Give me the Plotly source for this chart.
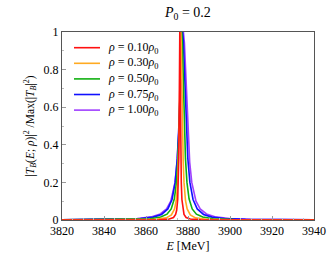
import plotly.graph_objects as go

labels = ["0.10", "0.30", "0.50", "0.75", "1.00"]
colors = ["#ff1010", "#ffaa22", "#10b010", "#1010ff", "#a040ff"]

E_red = [3820, 3850, 3866.1, 3871.1, 3873.1, 3874.1, 3874.6, 3875.1, 3875.4, 3875.6, 3875.75, 3875.9, 3876.0,
         3876.1, 3876.2, 3876.3, 3876.45, 3876.6, 3876.8, 3877.1, 3877.6, 3878.1, 3879.1, 3881.1, 3886.1, 3900, 3940]
Y_red = [0, 0.0001, 0.0012, 0.0049, 0.0134, 0.0297, 0.0516, 0.109, 0.2, 0.329, 0.5, 0.754, 0.925,
         1, 0.925, 0.754, 0.5, 0.329, 0.2, 0.109, 0.0516, 0.0297, 0.0134, 0.0049, 0.0012, 0.0002, 0]

E_orange = [3820, 3851.6, 3864.6, 3869.6, 3872.1, 3873.6, 3874.4, 3875.1, 3875.5, 3875.85, 3876.2, 3876.4, 3876.6,
            3876.8, 3877.0, 3877.35, 3877.7, 3878.1, 3878.8, 3879.6, 3881.1, 3883.6, 3888.6, 3901.6, 3940]
Y_orange = [0.0002, 0.0009, 0.0039, 0.0114, 0.027, 0.0588, 0.104, 0.2, 0.317, 0.5, 0.779, 0.934, 1,
            0.934, 0.779, 0.5, 0.317, 0.2, 0.104, 0.0588, 0.027, 0.0114, 0.0039, 0.0009, 0.0001]

E_green = [3820, 3852, 3862, 3867, 3870, 3872, 3873.5, 3874.5, 3875.2, 3875.75, 3876.4, 3876.7, 3877.0,
           3877.3, 3877.6, 3878.25, 3878.8, 3879.5, 3880.5, 3882, 3884, 3887, 3892, 3902, 3940]
Y_green = [0.0005, 0.0025, 0.0069, 0.0154, 0.0309, 0.0588, 0.113, 0.2, 0.325, 0.5, 0.813, 0.946, 1,
           0.946, 0.813, 0.5, 0.325, 0.2, 0.113, 0.0588, 0.0309, 0.0154, 0.0069, 0.0025, 0.0004]

E_blue = [3820, 3847.4, 3857.4, 3863.4, 3867.4, 3870.4, 3872.4, 3873.9, 3874.9, 3875.65, 3876.6, 3877.0, 3877.4,
          3877.8, 3878.2, 3879.15, 3879.9, 3880.9, 3882.4, 3884.4, 3887.4, 3891.4, 3897.4, 3907.4, 3940]
Y_blue = [0.0009, 0.0034, 0.0076, 0.0154, 0.0297, 0.0588, 0.109, 0.2, 0.329, 0.5, 0.827, 0.950, 1,
          0.950, 0.827, 0.5, 0.329, 0.2, 0.109, 0.0588, 0.0297, 0.0154, 0.0076, 0.0034, 0.0008]

E_purple = [3820, 3845.8, 3855.8, 3862.8, 3866.8, 3869.8, 3871.8, 3873.8, 3874.8, 3875.8, 3876.8, 3877.3, 3877.8,
            3878.3, 3878.8, 3879.8, 3880.8, 3881.8, 3883.8, 3885.8, 3888.8, 3892.8, 3899.8, 3909.8, 3940]
Y_purple = [0.0012, 0.0039, 0.0082, 0.0175, 0.032, 0.0588, 0.1, 0.2, 0.308, 0.5, 0.8, 0.941, 1,
            0.941, 0.8, 0.5, 0.308, 0.2, 0.1, 0.0588, 0.032, 0.0175, 0.0082, 0.0039, 0.001]

x_ticks = [3820, 3840, 3860, 3880, 3900, 3920, 3940]
y_ticks = [0, 0.2, 0.4, 0.6, 0.8, 1]
y_ticklabels = ["0", "0.2", "0.4", "0.6", "0.8", "1"]

series = [(E_red, Y_red), (E_orange, Y_orange), (E_green, Y_green), (E_blue, Y_blue), (E_purple, Y_purple)]

FONT = "Liberation Serif, DejaVu Serif, serif"
fig = go.Figure()
for i in reversed(range(5)):
    ex, yy = series[i]
    fig.add_trace(go.Scatter(
        x=ex, y=yy, mode="lines",
        line=dict(color=colors[i], width=1.6),
        name="<i>ρ</i> = " + labels[i] + "<i>ρ</i><sub>0</sub>",
        showlegend=False,
    ))

# manual legend (compact spacing like the reference)
leg_top = 0.9165
leg_step = 0.083
for i in range(5):
    yy = leg_top - i * leg_step
    fig.add_shape(type="line", xref="paper", yref="paper", x0=0.0476, x1=0.1508, y0=yy, y1=yy,
                  line=dict(color=colors[i], width=1.6))
    fig.add_annotation(xref="paper", yref="paper", x=0.175, y=yy, xanchor="left", yanchor="middle",
                       text="<i>ρ</i> = " + labels[i] + "<i>ρ</i><sub>0</sub>", showarrow=False,
                       font=dict(family=FONT, size=12, color="black"))

fig.update_layout(
    width=332, height=260,
    margin=dict(l=62, r=18, t=32, b=40, autoexpand=False),
    paper_bgcolor="white", plot_bgcolor="white",
    font=dict(family=FONT, size=12, color="black"),
    title=dict(text="<i>P</i><sub>0</sub> = 0.2", x=0.566, xanchor="center", y=0.955, yanchor="middle",
               font=dict(family=FONT, size=14)),
    showlegend=False,
)
fig.update_xaxes(
    range=[3820, 3940], tickvals=x_ticks, ticktext=[str(v) for v in x_ticks],
    showgrid=False, zeroline=False, showline=True, linecolor="#555", linewidth=1, mirror=True,
    ticks="inside", ticklen=4, tickcolor="#999",
    minor=dict(dtick=5, ticks="inside", ticklen=2, tickcolor="#bbb"),
    title=dict(text="<i>E</i> [MeV]", standoff=4, font=dict(size=12)),
)
fig.update_yaxes(
    range=[0, 1], tickvals=y_ticks, ticktext=y_ticklabels,
    showgrid=False, zeroline=False, showline=True, linecolor="#555", linewidth=1, mirror=True,
    ticks="inside", ticklen=4, tickcolor="#999",
    minor=dict(dtick=0.1, ticks="inside", ticklen=2, tickcolor="#bbb"),
    title=dict(text="|<i>T<sub>B</sub></i>(<i>E</i>; <i>ρ</i>)|<sup>2</sup> /Max(|<i>T<sub>B</sub></i>|<sup>2</sup>)",
               standoff=6, font=dict(size=11.5)),
)

fig.write_html("out.html", config={"displayModeBar": False},
               post_script="document.body.style.margin='0';document.body.style.padding='0';document.body.style.overflow='hidden';")
